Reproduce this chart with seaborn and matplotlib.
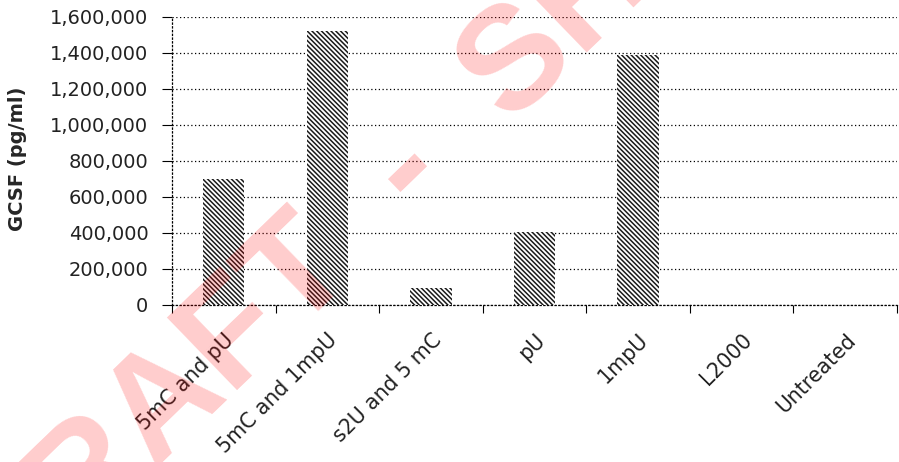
import matplotlib
matplotlib.use("Agg")
import matplotlib.pyplot as plt
import numpy as np
import seaborn as sns

CATEGORIES = ["5mC and pU", "5mC and 1mpU", "s2U and 5 mC", "pU", "1mpU", "L2000", "Untreated"]
GCSF_VALUES = [700000, 1520000, 95000, 405000, 1390000, 0, 0]
Y_TICKS = [0, 200000, 400000, 600000, 800000, 1000000, 1200000, 1400000, 1600000]

sns.set_theme(style="white")
plt.rcParams["font.family"] = ["DejaVu Sans"]
plt.rcParams["hatch.linewidth"] = 1.1

fig = plt.figure(figsize=(8.99, 4.62), dpi=100)
ax = fig.add_axes([172 / 899, 1 - 305 / 462, 725 / 899, 288 / 462])

sns.barplot(x=CATEGORIES, y=GCSF_VALUES, ax=ax, color="white", width=0.4,
            edgecolor="black", linewidth=0, zorder=3)
for bar in ax.patches:
    bar.set_hatch("\\" * 7)
    bar.set_edgecolor("#1a1a1a")

ax.set_xlim(-0.5, len(CATEGORIES) - 0.5)
ax.set_ylim(0, 1600000)
ax.set_yticks(Y_TICKS)
ax.set_yticklabels([f"{v:,}" for v in Y_TICKS], fontsize=14, color="#222222")
ax.yaxis.grid(True, linestyle=(0, (1, 2)), color="black", linewidth=0.9)
ax.set_axisbelow(True)

ax.set_xticks(range(len(CATEGORIES)))
ax.set_xticklabels(CATEGORIES, rotation=45, ha="right", rotation_mode="anchor",
                   fontsize=14.8, color="#222222")
ax.tick_params(axis="x", length=0, pad=18)
ax.tick_params(axis="y", length=7, width=0.8, color="black", direction="out", pad=10, left=True)
ax.set_xticks(np.arange(len(CATEGORIES) + 1) - 0.5, minor=True)
ax.tick_params(axis="x", which="minor", length=6, color="black", width=0.8, direction="out", bottom=True)

for side in ["top", "right"]:
    ax.spines[side].set_visible(False)
for side in ["left", "bottom"]:
    ax.spines[side].set_linestyle((0, (1, 2)))
    ax.spines[side].set_color("black")
    ax.spines[side].set_linewidth(0.9)

ax.set_ylabel("GCSF (pg/ml)", fontsize=14, fontweight="bold")
ax.yaxis.set_label_coords(-145 / 725, 0.507)

# watermark across the chart, the dash sits at the centre of the string
fig.text(405 / 899, 1 - 175 / 462, "DRAFT  -  SHEET", fontsize=105, fontweight="bold",
         family="Liberation Sans", color="red", alpha=0.2, rotation=44,
         rotation_mode="anchor", ha="center", va="center", zorder=10)

fig.savefig("out.png", dpi=100)
